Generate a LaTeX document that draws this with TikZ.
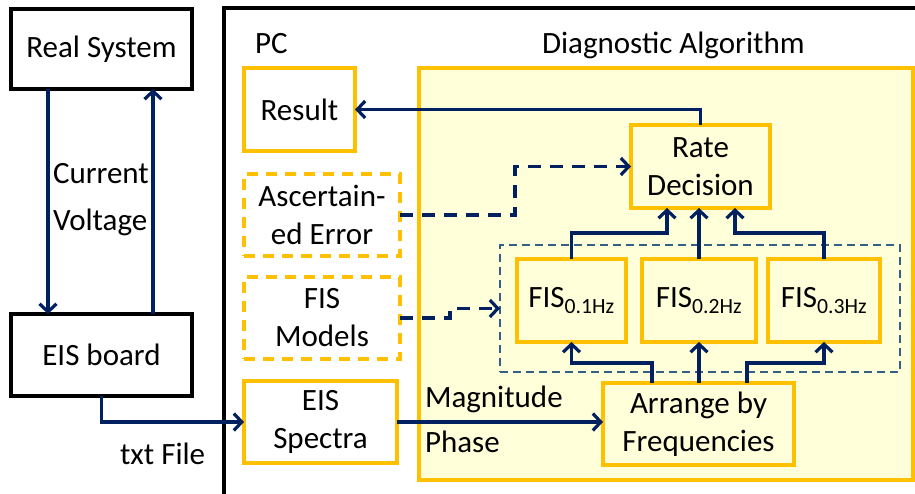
\documentclass[tikz,border=0pt]{standalone}
\usepackage{fontspec}
\setmainfont{Carlito}
\usetikzlibrary{arrows.meta}
\definecolor{navy}{HTML}{002060}
\definecolor{dblue}{HTML}{1F4E79}
\definecolor{orng}{HTML}{FFC000}
\definecolor{lyel}{HTML}{FFFFD9}
\begin{document}
\begin{tikzpicture}[x=1pt,y=-1pt,
  every node/.style={inner sep=0pt,outer sep=0pt,font=\fontsize{31}{38}\selectfont,align=center},
  blackbox/.style={draw=black,line width=3.2pt,fill=white},
  obox/.style={draw=orng,line width=3.2pt,fill=white},
  ofill/.style={draw=orng,line width=3.2pt,fill=lyel},
  odash/.style={draw=orng,line width=3.2pt,fill=white,dash pattern=on 11pt off 8pt},
  conn/.style={draw=navy,line width=3.2pt,-{Straight Barb[length=8pt,width=17pt,line width=3.2pt]}},
  dconn/.style={conn,dash pattern=on 13pt off 9pt},
  lbl/.style={anchor=base west}
]
\useasboundingbox (0,0) rectangle (915,493);
% PC frame
\draw[line width=3.2pt] (224,500) -- (224,8) -- (920,8);
\node[lbl] (pc) at (255,53) {PC};
\node[lbl] (dal) at (542,53) {Diagnostic Algorithm};
% boxes
\node[blackbox,minimum width=181pt,minimum height=80pt] (real) at (101.5,49) {Real System};
\node[blackbox,minimum width=181pt,minimum height=82pt] (eisb) at (101.5,355) {EIS board};
\node[ofill,minimum width=494pt,minimum height=412pt] (diag) at (666,274) {};
\node[obox,minimum width=111pt,minimum height=83pt] (result) at (299.5,109.5) {Result};
\node[odash,minimum width=156pt,minimum height=82pt] (asc) at (322,215) {Ascertain-\\ed Error};
\node[odash,minimum width=156pt,minimum height=82pt] (fism) at (322,318) {FIS\\Models};
\node[obox,minimum width=153pt,minimum height=82pt] (eiss) at (320.5,422) {EIS\\Spectra};
\node[ofill,minimum width=139pt,minimum height=83pt] (rate) at (700.5,166.5) {Rate\\Decision};
\node[draw=dblue!90,line width=2.8pt,dash pattern=on 8pt off 5pt,minimum width=400pt,minimum height=127pt] (fisbox) at (700,308.5) {};
\node[ofill,minimum width=109pt,minimum height=83pt] (fis1) at (571.5,300.5) {FIS\textsubscript{0.1Hz}};
\node[ofill,minimum width=114pt,minimum height=83pt] (fis2) at (699,300.5) {FIS\textsubscript{0.2Hz}};
\node[ofill,minimum width=112pt,minimum height=83pt] (fis3) at (824,300.5) {FIS\textsubscript{0.3Hz}};
\node[ofill,minimum width=191pt,minimum height=82pt] (arr) at (698.5,424) {Arrange by\\Frequencies};
% labels
\node[lbl] (cur) at (53,183) {Current};
\node[lbl] (vol) at (53,230) {Voltage};
\node[lbl] (txt) at (120,464) {txt File};
\node[lbl] (mag) at (425,407) {Magnitude};
\node[lbl] (pha) at (425,452) {Phase};
% helper coordinates
\coordinate (c1) at (48,0);
\coordinate (c2) at (153,0);
\coordinate (k1) at (515,0);
\coordinate (k2) at (450,0);
\coordinate (k3) at (667,233);
\coordinate (k4) at (735,233);
\coordinate (k5) at (652,363);
\coordinate (k6) at (747,363);
% connectors
\draw[conn] (real.south -| c1) -- (eisb.north -| c1);
\draw[conn] (eisb.north -| c2) -- (real.south -| c2);
\draw[conn] (eisb.south) |- (eiss.west);
\draw[conn] (rate.north) |- (result.east);
\draw[dconn] (asc.east) -- (asc.east -| k1) |- (rate.west);
\draw[dconn] (fism.east) -- (fism.east -| k2) |- (fisbox.west);
\draw[conn] (fis1.north) |- (k3) -- (rate.south -| k3);
\draw[conn] (fis2.north) -- (fis2.north |- rate.south);
\draw[conn] (fis3.north) |- (k4) -- (rate.south -| k4);
\draw[conn] (arr.north -| k5) -- (k5) -| (fis1.south);
\draw[conn] (arr.north -| fis2.south) -- (fis2.south);
\draw[conn] (arr.north -| k6) -- (k6) -| (fis3.south);
\draw[conn] (eiss.east) -- (eiss.east -| arr.west);
\end{tikzpicture}
\end{document}
